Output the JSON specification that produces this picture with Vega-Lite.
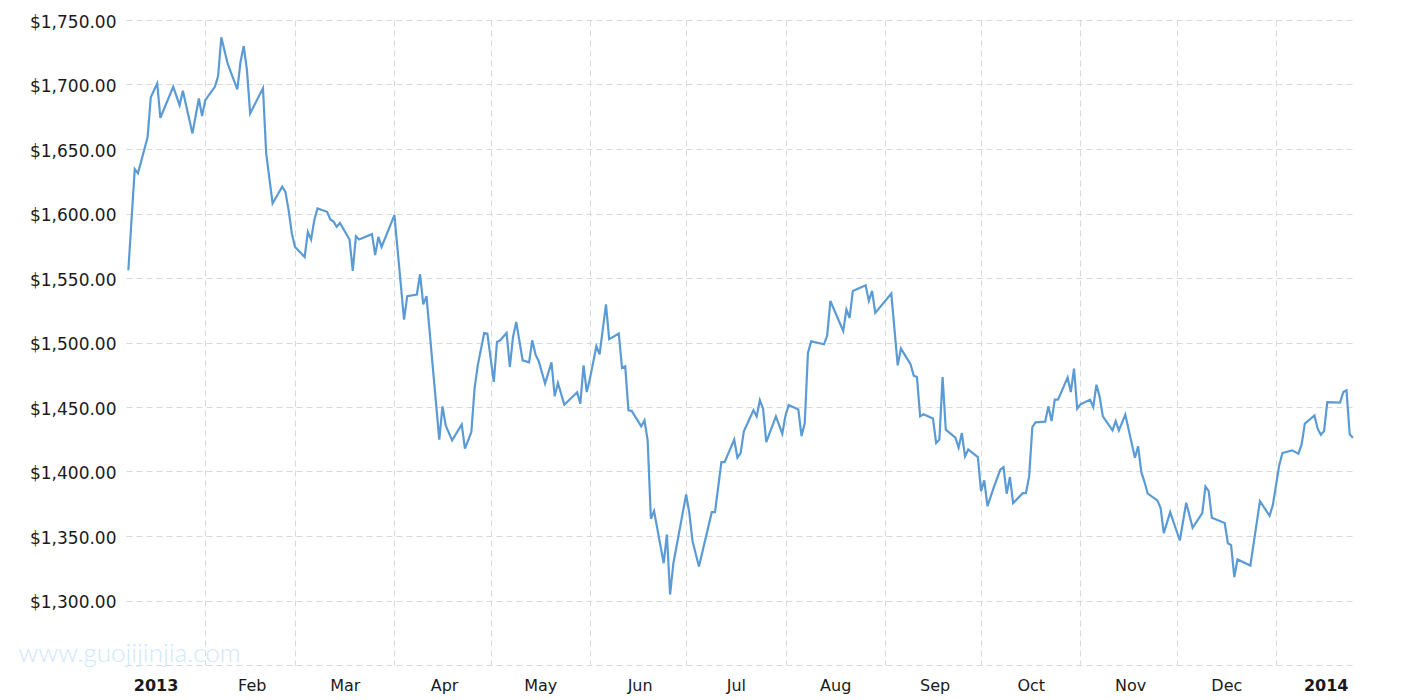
{
  "$schema": "https://vega.github.io/schema/vega-lite/v6.json",
  "width": 1229,
  "height": 645,
  "autosize": {"type": "none"},
  "padding": {"left": 126, "top": 20, "right": 60, "bottom": 35},
  "background": "white",
  "config": {"view": {"stroke": null}, "font": "DejaVu Sans"},
  "data": {"values": [
    {"date":"2013-01-08","price":1556.0},{"date":"2013-01-10","price":1634.4},{"date":"2013-01-11","price":1631.1},{"date":"2013-01-14","price":1659.0},{"date":"2013-01-15","price":1690.0},{"date":"2013-01-17","price":1700.9},{"date":"2013-01-18","price":1674.2},{"date":"2013-01-22","price":1698.2},{"date":"2013-01-24","price":1684.0},{"date":"2013-01-25","price":1695.1},{"date":"2013-01-28","price":1662.1},{"date":"2013-01-30","price":1689.2},{"date":"2013-01-31","price":1675.5},
    {"date":"2013-02-01","price":1687.9},{"date":"2013-02-04","price":1698.2},{"date":"2013-02-05","price":1706.5},{"date":"2013-02-06","price":1736.6},{"date":"2013-02-08","price":1715.9},{"date":"2013-02-11","price":1696.2},{"date":"2013-02-12","price":1717.6},{"date":"2013-02-13","price":1729.8},{"date":"2013-02-14","price":1711.2},{"date":"2013-02-15","price":1677.6},{"date":"2013-02-19","price":1697.2},{"date":"2013-02-20","price":1646.6},{"date":"2013-02-22","price":1607.8},{"date":"2013-02-25","price":1620.8},{"date":"2013-02-26","price":1616.8},{"date":"2013-02-27","price":1602.6},{"date":"2013-02-28","price":1584.5},
    {"date":"2013-03-01","price":1574.1},{"date":"2013-03-04","price":1566.3},{"date":"2013-03-05","price":1585.7},{"date":"2013-03-06","price":1579.8},{"date":"2013-03-07","price":1594.8},{"date":"2013-03-08","price":1603.9},{"date":"2013-03-11","price":1601.3},{"date":"2013-03-12","price":1595.4},{"date":"2013-03-13","price":1593.7},{"date":"2013-03-14","price":1589.6},{"date":"2013-03-15","price":1592.7},{"date":"2013-03-18","price":1579.8},{"date":"2013-03-19","price":1555.5},{"date":"2013-03-20","price":1582.4},{"date":"2013-03-21","price":1579.8},{"date":"2013-03-25","price":1584.0},{"date":"2013-03-26","price":1567.7},{"date":"2013-03-27","price":1581.9},{"date":"2013-03-28","price":1574.1},
    {"date":"2013-04-01","price":1598.7},{"date":"2013-04-04","price":1517.8},{"date":"2013-04-05","price":1535.9},{"date":"2013-04-08","price":1537.2},{"date":"2013-04-09","price":1552.9},{"date":"2013-04-10","price":1529.6},{"date":"2013-04-11","price":1535.9},{"date":"2013-04-15","price":1424.7},{"date":"2013-04-16","price":1450.5},{"date":"2013-04-17","price":1435.8},{"date":"2013-04-19","price":1424.1},{"date":"2013-04-22","price":1436.5},{"date":"2013-04-23","price":1417.7},{"date":"2013-04-25","price":1430.6},{"date":"2013-04-26","price":1464.2},{"date":"2013-04-27","price":1482.3},{"date":"2013-04-29","price":1507.4},{"date":"2013-04-30","price":1506.9},
    {"date":"2013-05-02","price":1469.4},{"date":"2013-05-03","price":1500.4},{"date":"2013-05-04","price":1501.7},{"date":"2013-05-06","price":1507.4},{"date":"2013-05-07","price":1481.0},{"date":"2013-05-08","price":1504.3},{"date":"2013-05-09","price":1515.9},{"date":"2013-05-11","price":1486.2},{"date":"2013-05-13","price":1484.6},{"date":"2013-05-14","price":1501.7},{"date":"2013-05-15","price":1490.8},{"date":"2013-05-16","price":1485.7},{"date":"2013-05-18","price":1468.1},{"date":"2013-05-20","price":1484.6},{"date":"2013-05-21","price":1458.3},{"date":"2013-05-22","price":1468.6},{"date":"2013-05-24","price":1451.8},{"date":"2013-05-28","price":1461.4},{"date":"2013-05-29","price":1452.6},{"date":"2013-05-30","price":1482.3},{"date":"2013-05-31","price":1461.6},
    {"date":"2013-06-01","price":1472.0},{"date":"2013-06-03","price":1497.1},{"date":"2013-06-04","price":1490.8},{"date":"2013-06-06","price":1529.6},{"date":"2013-06-07","price":1502.5},{"date":"2013-06-10","price":1506.9},{"date":"2013-06-11","price":1480.2},{"date":"2013-06-12","price":1481.5},{"date":"2013-06-13","price":1447.4},{"date":"2013-06-14","price":1447.0},{"date":"2013-06-17","price":1435.0},{"date":"2013-06-18","price":1439.6},{"date":"2013-06-19","price":1424.1},{"date":"2013-06-20","price":1363.4},{"date":"2013-06-21","price":1369.3},{"date":"2013-06-24","price":1328.9},{"date":"2013-06-25","price":1351.2},{"date":"2013-06-26","price":1304.6},{"date":"2013-06-27","price":1328.5},
    {"date":"2013-07-01","price":1382.2},{"date":"2013-07-02","price":1367.7},{"date":"2013-07-03","price":1346.0},{"date":"2013-07-05","price":1326.4},{"date":"2013-07-09","price":1368.5},{"date":"2013-07-10","price":1368.5},{"date":"2013-07-12","price":1407.3},{"date":"2013-07-13","price":1407.3},{"date":"2013-07-16","price":1424.7},{"date":"2013-07-17","price":1410.7},{"date":"2013-07-18","price":1414.3},{"date":"2013-07-19","price":1431.1},{"date":"2013-07-22","price":1447.4},{"date":"2013-07-23","price":1442.7},{"date":"2013-07-24","price":1455.2},{"date":"2013-07-25","price":1448.7},{"date":"2013-07-26","price":1422.8},{"date":"2013-07-29","price":1442.7},{"date":"2013-07-31","price":1429.3},
    {"date":"2013-08-01","price":1443.5},{"date":"2013-08-02","price":1451.5},{"date":"2013-08-05","price":1448.0},{"date":"2013-08-06","price":1427.5},{"date":"2013-08-07","price":1437.5},{"date":"2013-08-08","price":1491.9},{"date":"2013-08-09","price":1500.9},{"date":"2013-08-13","price":1498.6},{"date":"2013-08-14","price":1505.4},{"date":"2013-08-15","price":1532.2},{"date":"2013-08-19","price":1508.9},{"date":"2013-08-20","price":1525.5},{"date":"2013-08-21","price":1519.0},{"date":"2013-08-22","price":1540.0},{"date":"2013-08-26","price":1544.4},{"date":"2013-08-27","price":1532.2},{"date":"2013-08-28","price":1540.0},{"date":"2013-08-29","price":1522.9},
    {"date":"2013-09-03","price":1537.9},{"date":"2013-09-05","price":1482.3},{"date":"2013-09-06","price":1495.3},{"date":"2013-09-09","price":1483.1},{"date":"2013-09-10","price":1474.3},{"date":"2013-09-11","price":1473.2},{"date":"2013-09-12","price":1442.7},{"date":"2013-09-13","price":1444.3},{"date":"2013-09-16","price":1441.0},{"date":"2013-09-17","price":1422.0},{"date":"2013-09-18","price":1424.7},{"date":"2013-09-19","price":1473.2},{"date":"2013-09-20","price":1432.4},{"date":"2013-09-23","price":1426.2},{"date":"2013-09-24","price":1418.5},{"date":"2013-09-25","price":1429.8},{"date":"2013-09-26","price":1411.7},{"date":"2013-09-27","price":1417.1},{"date":"2013-09-30","price":1411.2},
    {"date":"2013-10-01","price":1384.8},{"date":"2013-10-02","price":1393.1},{"date":"2013-10-03","price":1373.1},{"date":"2013-10-05","price":1387.9},{"date":"2013-10-07","price":1401.4},{"date":"2013-10-08","price":1403.4},{"date":"2013-10-09","price":1382.8},{"date":"2013-10-10","price":1395.7},{"date":"2013-10-11","price":1375.5},{"date":"2013-10-14","price":1383.2},{"date":"2013-10-15","price":1383.2},{"date":"2013-10-16","price":1396.2},{"date":"2013-10-17","price":1434.4},{"date":"2013-10-18","price":1438.1},{"date":"2013-10-21","price":1438.6},{"date":"2013-10-22","price":1450.5},{"date":"2013-10-23","price":1439.1},{"date":"2013-10-24","price":1455.7},{"date":"2013-10-25","price":1455.7},{"date":"2013-10-28","price":1472.8},{"date":"2013-10-29","price":1461.6},{"date":"2013-10-30","price":1479.8},{"date":"2013-10-31","price":1448.7},
    {"date":"2013-11-01","price":1452.1},{"date":"2013-11-04","price":1455.7},{"date":"2013-11-05","price":1450.0},{"date":"2013-11-06","price":1467.3},{"date":"2013-11-07","price":1457.7},{"date":"2013-11-08","price":1442.7},{"date":"2013-11-11","price":1431.9},{"date":"2013-11-12","price":1439.1},{"date":"2013-11-13","price":1431.9},{"date":"2013-11-15","price":1444.1},{"date":"2013-11-18","price":1410.7},{"date":"2013-11-19","price":1419.5},{"date":"2013-11-20","price":1399.5},{"date":"2013-11-21","price":1391.8},{"date":"2013-11-22","price":1382.8},{"date":"2013-11-25","price":1377.6},{"date":"2013-11-26","price":1371.9},{"date":"2013-11-27","price":1352.2},{"date":"2013-11-29","price":1368.5},
    {"date":"2013-12-02","price":1346.5},{"date":"2013-12-04","price":1375.8},{"date":"2013-12-06","price":1356.4},{"date":"2013-12-09","price":1367.7},{"date":"2013-12-10","price":1388.4},{"date":"2013-12-11","price":1384.8},{"date":"2013-12-12","price":1364.1},{"date":"2013-12-16","price":1360.0},{"date":"2013-12-17","price":1344.4},{"date":"2013-12-18","price":1342.9},{"date":"2013-12-19","price":1318.1},{"date":"2013-12-20","price":1331.8},{"date":"2013-12-24","price":1327.1},{"date":"2013-12-27","price":1377.0},{"date":"2013-12-30","price":1365.7},{"date":"2013-12-31","price":1373.7},
    {"date":"2014-01-02","price":1404.7},{"date":"2014-01-03","price":1414.3},{"date":"2014-01-06","price":1416.4},{"date":"2014-01-08","price":1413.8},{"date":"2014-01-09","price":1421.0},{"date":"2014-01-10","price":1437.1},{"date":"2014-01-13","price":1443.5},{"date":"2014-01-14","price":1433.2},{"date":"2014-01-15","price":1428.5},{"date":"2014-01-16","price":1431.3},{"date":"2014-01-17","price":1453.8},{"date":"2014-01-21","price":1453.4},{"date":"2014-01-22","price":1461.6},{"date":"2014-01-23","price":1462.9},{"date":"2014-01-24","price":1428.8},{"date":"2014-01-25","price":1426.2}
  ]},
  "layer": [
    {
      "mark": {"type": "line", "color": "#5b9bd5", "strokeWidth": 2.2, "interpolate": "linear"},
      "encoding": {
        "x": {
          "field": "date", "type": "temporal",
          "scale": {"type": "utc", "domain": [
            {"year": 2013, "month": 1, "date": 7, "hours": 6, "minutes": 30, "utc": true},
            {"year": 2014, "month": 1, "date": 25, "hours": 15, "minutes": 36, "utc": true}
          ]},
          "axis": {
            "orient": "bottom", "title": null, "labels": false, "ticks": false, "domain": false,
            "grid": true, "gridColor": "#d9d9d9", "gridDash": [6, 4], "gridWidth": 1,
            "values": [
              {"year": 2013, "month": 2, "date": 1, "utc": true},
              {"year": 2013, "month": 3, "date": 1, "utc": true},
              {"year": 2013, "month": 4, "date": 1, "utc": true},
              {"year": 2013, "month": 5, "date": 1, "utc": true},
              {"year": 2013, "month": 6, "date": 1, "utc": true},
              {"year": 2013, "month": 7, "date": 1, "utc": true},
              {"year": 2013, "month": 8, "date": 1, "utc": true},
              {"year": 2013, "month": 9, "date": 1, "utc": true},
              {"year": 2013, "month": 10, "date": 1, "utc": true},
              {"year": 2013, "month": 11, "date": 1, "utc": true},
              {"year": 2013, "month": 12, "date": 1, "utc": true},
              {"year": 2014, "month": 1, "date": 1, "utc": true}
            ]
          }
        },
        "y": {
          "field": "price", "type": "quantitative",
          "scale": {"domain": [1250, 1750], "zero": false, "nice": false},
          "axis": {
            "orient": "left", "title": null, "ticks": false, "domain": false,
            "grid": true, "gridColor": "#d9d9d9", "gridDash": [6, 4], "gridWidth": 1,
            "values": [1250, 1300, 1350, 1400, 1450, 1500, 1550, 1600, 1650, 1700, 1750],
            "labelExpr": "datum.value === 1250 ? '' : format(datum.value, '$,.2f')",
            "labelFont": "DejaVu Sans", "labelFontSize": 17, "labelColor": "#1a1a1a",
            "labelPadding": 10, "labelOffset": 2, "labelOverlap": false, "labelBound": false, "labelFlush": false
          }
        }
      }
    },
    {
      "data": {"values": [{"site": "www.guojijinjia.com"}]},
      "mark": {"type": "text", "align": "left", "baseline": "alphabetic", "font": "Lato", "fontWeight": 300, "fontSize": 26, "color": "#cfe8fb"},
      "encoding": {
        "text": {"field": "site", "type": "nominal"},
        "x": {
          "datum": {"year": 2012, "month": 12, "date": 4, "hours": 16, "utc": true},
          "type": "temporal",
          "axis": {
            "orient": "bottom", "title": null, "ticks": false, "domain": false, "grid": false,
            "labelFont": "DejaVu Sans", "labelFontSize": 16, "labelColor": "#1a1a1a",
            "labelPadding": 12, "labelOverlap": false, "labelFlush": false, "labelBound": false,
            "labelExpr": "utcmonth(datum.value) === 0 ? utcFormat(datum.value, '%Y') : utcFormat(datum.value, '%b')",
            "labelFontWeight": {"condition": {"test": "utcmonth(datum.value) === 0", "value": "bold"}, "value": "normal"},
            "values": [
              {"year": 2013, "month": 1, "date": 16, "hours": 12, "utc": true},
              {"year": 2013, "month": 2, "date": 15, "hours": 12, "utc": true},
              {"year": 2013, "month": 3, "date": 16, "hours": 12, "utc": true},
              {"year": 2013, "month": 4, "date": 16, "hours": 12, "utc": true},
              {"year": 2013, "month": 5, "date": 16, "hours": 12, "utc": true},
              {"year": 2013, "month": 6, "date": 16, "hours": 12, "utc": true},
              {"year": 2013, "month": 7, "date": 16, "hours": 12, "utc": true},
              {"year": 2013, "month": 8, "date": 16, "hours": 12, "utc": true},
              {"year": 2013, "month": 9, "date": 16, "hours": 12, "utc": true},
              {"year": 2013, "month": 10, "date": 16, "hours": 12, "utc": true},
              {"year": 2013, "month": 11, "date": 16, "hours": 12, "utc": true},
              {"year": 2013, "month": 12, "date": 16, "hours": 12, "utc": true},
              {"year": 2014, "month": 1, "date": 16, "hours": 12, "utc": true}
            ]
          }
        },
        "y": {"datum": 1252.6, "type": "quantitative", "axis": null}
      }
    }
  ],
  "resolve": {"axis": {"x": "independent", "y": "independent"}}
}
